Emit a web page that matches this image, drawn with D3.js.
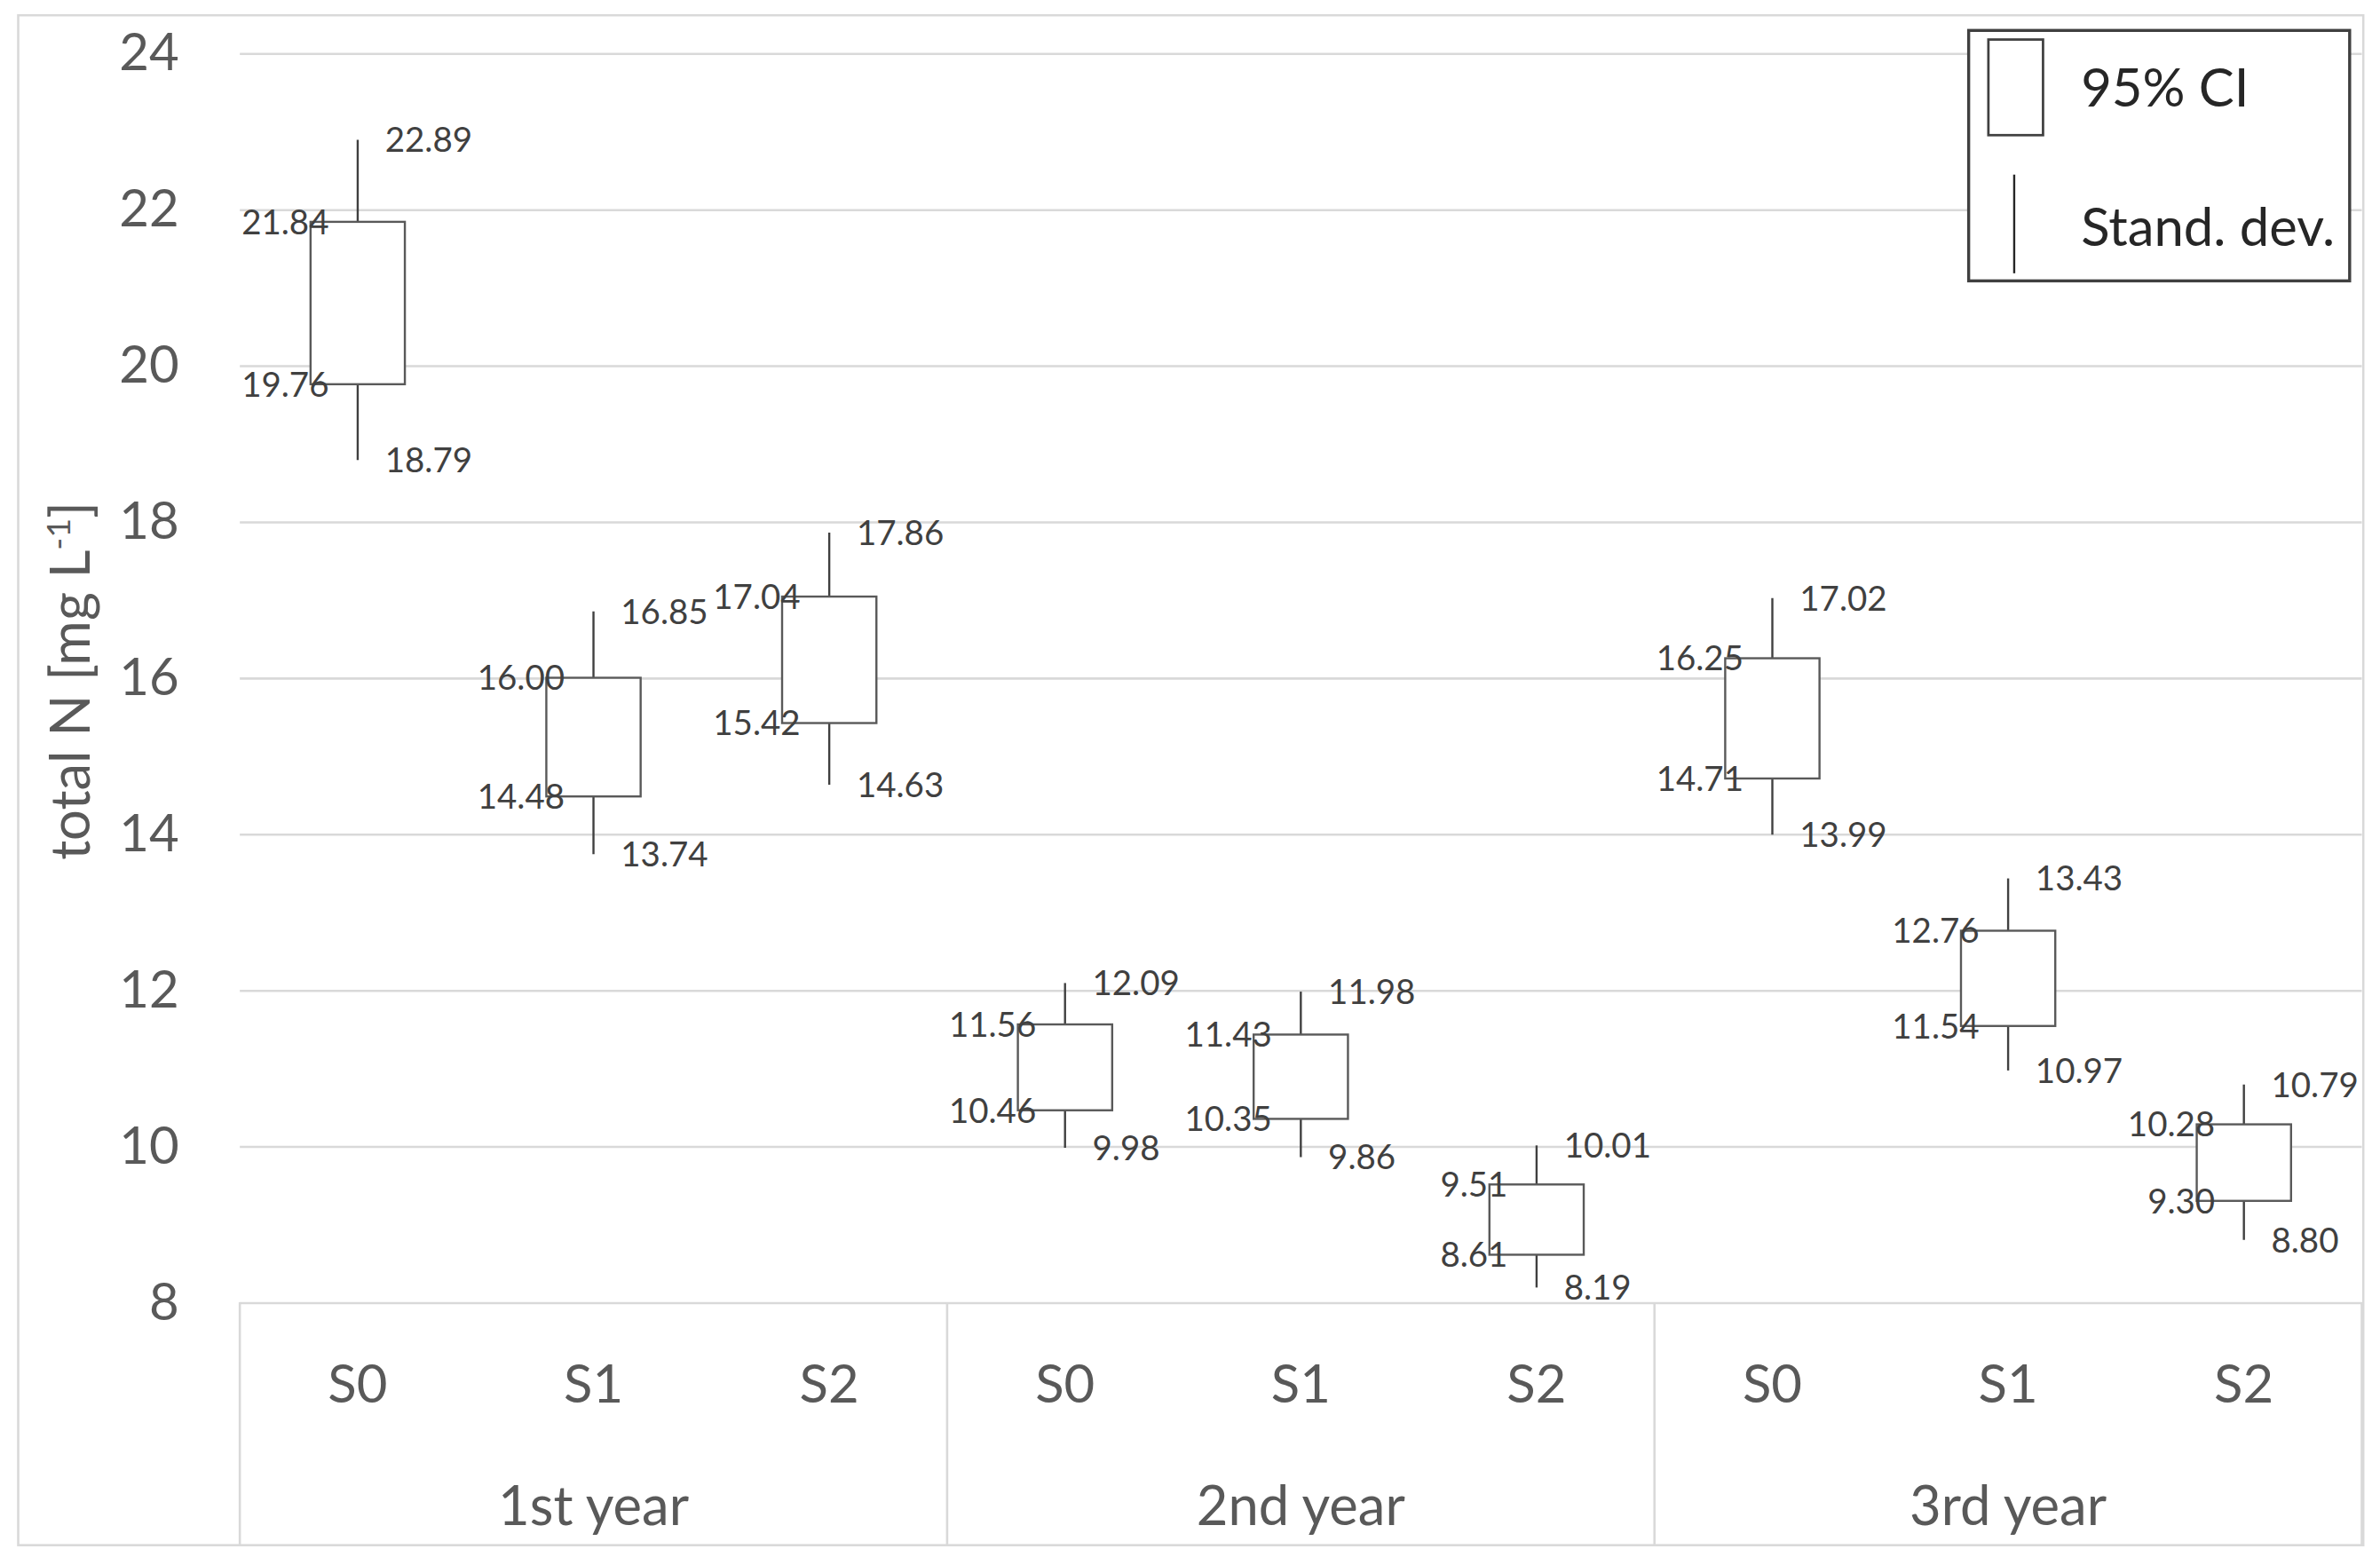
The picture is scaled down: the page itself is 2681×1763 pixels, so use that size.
<!DOCTYPE html>
<html>
<head>
<meta charset="utf-8">
<script src="https://cdn.jsdelivr.net/npm/d3@7"></script>
<style>
  html, body { margin: 0; padding: 0; background: #fff; }
  svg { display: block; }
  text { font-family: Lato, "Open Sans", sans-serif; }
</style>
</head>
<body>
<svg id="chart" width="2681" height="1763" viewBox="0 0 1568 1031"></svg>
<script>
'use strict';

/* -- Data --------------------------------------------------------------- */
const years = ['1st year', '2nd year', '3rd year'];
const sites = ['S0', 'S1', 'S2'];
const sdHigh = [22.89, 16.85, 17.86, 12.09, 11.98, 10.01, 17.02, 13.43, 10.79];
const ciHigh = [21.84, 16.00, 17.04, 11.56, 11.43, 9.51, 16.25, 12.76, 10.28];
const ciLow  = [19.76, 14.48, 15.42, 10.46, 10.35, 8.61, 14.71, 11.54, 9.30];
const sdLow  = [18.79, 13.74, 14.63, 9.98, 9.86, 8.19, 13.99, 10.97, 8.80];
const yTicks = [8, 10, 12, 14, 16, 18, 20, 22, 24];
const legendItems = ['95% CI', 'Stand. dev.'];

/* -- Build rows --------------------------------------------------------- */
const rows = [];
years.forEach(function(yr, i) {
    sites.forEach(function(s, j) {
        const k = i * 3 + j;
        rows.push({year: yr, site: s, hi: sdHigh[k], q3: ciHigh[k], q1: ciLow[k], lo: sdLow[k]});
    });
});

/* -- Layout ------------------------------------------------------------- */
const plot = {left: 158, right: 1556, top: 35, bottom: 858};
const axisBottom = 1018;
const grey = '#d9d9d9';
const textCol = '#595959';
const markCol = '#404040';

const svg = d3.select('#chart');

/* outer chart border */
svg.append('rect')
    .attr('x', 12).attr('y', 10)
    .attr('width', 1545).attr('height', 1008)
    .attr('fill', '#fff')
    .attr('stroke', grey).attr('stroke-width', 1.5);

/* -- Scales ------------------------------------------------------------- */
const xGroup = d3.scaleBand().domain(years).range([plot.left, plot.right]);
const xSite = d3.scaleBand().domain(sites).range([0, xGroup.bandwidth()]);
const y = d3.scaleLinear().domain([8, 24]).range([plot.bottom, plot.top]);
const cx = function(d) { return xGroup(d.year) + xSite(d.site) + xSite.bandwidth() / 2; };
const boxW = xSite.bandwidth() * 0.4;

/* -- Gridlines ---------------------------------------------------------- */
const grid = svg.append('g')
    .attr('transform', 'translate(' + plot.left + ',0)')
    .call(d3.axisLeft(y).tickValues(yTicks).tickSize(-(plot.right - plot.left)).tickFormat(''));
grid.select('.domain').remove();
grid.selectAll('line').attr('stroke', grey).attr('stroke-width', 1.5);

/* -- Y tick labels ------------------------------------------------------ */
const yAx = svg.append('g')
    .attr('transform', 'translate(' + plot.left + ',0)')
    .call(d3.axisLeft(y).tickValues(yTicks).tickSize(0).tickPadding(40));
yAx.select('.domain').remove();
yAx.selectAll('text')
    .attr('fill', textCol)
    .style('font-size', '34px')
    .style('font-family', 'Lato, "Open Sans", sans-serif');

/* -- Y title ------------------------------------------------------------ */
const yTitle = svg.append('text')
    .attr('transform', 'translate(59,' + ((plot.top + plot.bottom) / 2 + 2) + ') rotate(-90)')
    .attr('text-anchor', 'middle')
    .attr('fill', textCol)
    .style('font-size', '36px');
yTitle.append('tspan').text('total N [mg L');
yTitle.append('tspan').attr('dy', -13).style('font-size', '22px').text('-1');
yTitle.append('tspan').attr('dy', 13).text(']');

/* -- Multi-level category axis ----------------------------------------- */
const catAx = svg.append('g');
const bounds = years.map(function(yr) { return xGroup(yr); }).concat([plot.right]);
catAx.selectAll('line.sep')
    .data(bounds)
    .enter().append('line')
    .attr('class', 'sep')
    .attr('x1', function(d) { return d; }).attr('x2', function(d) { return d; })
    .attr('y1', plot.bottom).attr('y2', axisBottom)
    .attr('stroke', grey).attr('stroke-width', 1.5);

catAx.selectAll('text.site')
    .data(rows)
    .enter().append('text')
    .attr('class', 'site')
    .attr('x', cx)
    .attr('y', 912)
    .attr('dy', '0.35em')
    .attr('text-anchor', 'middle')
    .attr('fill', textCol)
    .style('font-size', '35px')
    .text(function(d) { return d.site; });

catAx.selectAll('text.year')
    .data(years)
    .enter().append('text')
    .attr('class', 'year')
    .attr('x', function(d) { return xGroup(d) + xGroup.bandwidth() / 2; })
    .attr('y', 992)
    .attr('dy', '0.35em')
    .attr('text-anchor', 'middle')
    .attr('fill', textCol)
    .style('font-size', '36px')
    .text(function(d) { return d; });

/* -- Whiskers and boxes ------------------------------------------------- */
const marks = svg.append('g');
marks.selectAll('line.sd')
    .data(rows)
    .enter().append('line')
    .attr('class', 'sd')
    .attr('x1', cx).attr('x2', cx)
    .attr('y1', function(d) { return y(d.hi); })
    .attr('y2', function(d) { return y(d.lo); })
    .attr('stroke', markCol).attr('stroke-width', 1.4);

marks.selectAll('rect.ci')
    .data(rows)
    .enter().append('rect')
    .attr('class', 'ci')
    .attr('x', function(d) { return cx(d) - boxW / 2; })
    .attr('y', function(d) { return y(d.q3); })
    .attr('width', boxW)
    .attr('height', function(d) { return y(d.q1) - y(d.q3); })
    .attr('fill', '#fff')
    .attr('stroke', '#595959').attr('stroke-width', 1.4);

/* -- Data labels -------------------------------------------------------- */
const labels = svg.append('g').style('font-size', '22.5px').attr('fill', markCol);
const labelSpec = [
    {key: 'hi', dx: 18, anchor: 'start'},
    {key: 'lo', dx: 18, anchor: 'start'},
    {key: 'q3', dx: -19, anchor: 'end'},
    {key: 'q1', dx: -19, anchor: 'end'}
];
labelSpec.forEach(function(spec) {
    labels.selectAll('text.' + spec.key)
        .data(rows)
        .enter().append('text')
        .attr('class', spec.key)
        .attr('x', function(d) { return cx(d) + spec.dx; })
        .attr('y', function(d) { return y(d[spec.key]); })
        .attr('dy', '0.36em')
        .attr('text-anchor', spec.anchor)
        .text(function(d) { return d[spec.key].toFixed(2); });
});

/* -- Legend ------------------------------------------------------------- */
const legend = svg.append('g');
legend.append('rect')
    .attr('x', 1297).attr('y', 20)
    .attr('width', 251).attr('height', 165)
    .attr('fill', '#fff')
    .attr('stroke', '#404040').attr('stroke-width', 2);
legend.append('rect')
    .attr('x', 1310).attr('y', 26)
    .attr('width', 36).attr('height', 63)
    .attr('fill', '#fff')
    .attr('stroke', '#404040').attr('stroke-width', 1.6);
legend.append('line')
    .attr('x1', 1327).attr('x2', 1327)
    .attr('y1', 115).attr('y2', 180)
    .attr('stroke', '#262626').attr('stroke-width', 1.4);
legend.selectAll('text')
    .data(legendItems)
    .enter().append('text')
    .attr('x', 1371)
    .attr('y', function(d, i) { return i === 0 ? 58 : 150; })
    .attr('dy', '0.35em')
    .attr('fill', '#262626')
    .style('font-size', '35px')
    .text(function(d) { return d; });
</script>
</body>
</html>
